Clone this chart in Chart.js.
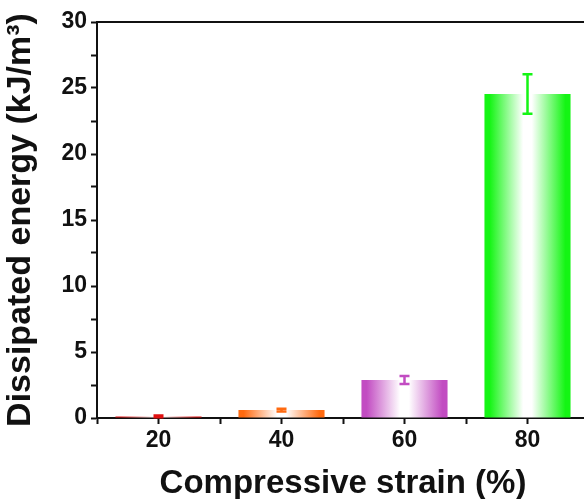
<!DOCTYPE html>
<html>
<head>
<meta charset="utf-8">
<script src="https://cdn.jsdelivr.net/npm/chart.js@4/dist/chart.umd.min.js"></script>
<style>
  html, body { margin: 0; padding: 0; background: #fff; overflow: hidden; }
  #wrap { width: 600px; height: 499px; }
</style>
</head>
<body>
<div id="wrap"><canvas id="myChart" width="600" height="499"></canvas></div>
<script>
// data
const strains = [20, 40, 60, 80];
const energy = [0.12, 0.6, 2.88, 24.55];
const energyErr = [0.06, 0.1, 0.3, 1.5];
const barColors = ['#e01010', '#ff6a10', '#c24cc2', '#14f514'];
const xTickLabels = [20, 40, 60, 80];

const FONT = "'Liberation Sans', Arial, sans-serif";

// horizontal gradient: colour at edges, white in the middle
const barFill = (ctx) => {
    const chart = ctx.chart;
    const { chartArea, scales } = chart;
    const i = ctx.dataIndex;
    if (!chartArea || !scales.x || i === undefined) return barColors[i] || '#000';
    const xs = scales.x;
    const cx = xs.getPixelForValue(strains[i]);
    const half = 0.35 * (xs.getPixelForValue(strains[1]) - xs.getPixelForValue(strains[0]));
    const g = chart.ctx.createLinearGradient(cx - half, 0, cx + half, 0);
    g.addColorStop(0, barColors[i]);
    g.addColorStop(0.06, barColors[i]);
    g.addColorStop(0.45, '#ffffff');
    g.addColorStop(0.55, '#ffffff');
    g.addColorStop(0.94, barColors[i]);
    g.addColorStop(1, barColors[i]);
    return g;
};

const errorBars = {
    id: 'errorBars',
    afterDatasetsDraw(chart) {
        const { ctx, scales } = chart;
        const xs = scales.x, ys = scales.y;
        ctx.save();
        energy.forEach((v, i) => {
            const x = xs.getPixelForValue(strains[i]);
            const yt = ys.getPixelForValue(v + energyErr[i]);
            const yb = ys.getPixelForValue(v - energyErr[i]);
            ctx.strokeStyle = barColors[i];
            ctx.lineWidth = 2.5;
            ctx.beginPath();
            ctx.moveTo(x, yt); ctx.lineTo(x, yb);
            ctx.moveTo(x - 5, yt); ctx.lineTo(x + 5, yt);
            ctx.moveTo(x - 5, yb); ctx.lineTo(x + 5, yb);
            ctx.stroke();
        });
        ctx.restore();
    }
};

// top / right frame line
const frameTop = {
    id: 'frameTop',
    afterDraw(chart) {
        const { ctx, chartArea } = chart;
        ctx.save();
        ctx.strokeStyle = '#111';
        ctx.lineWidth = 2;
        ctx.beginPath();
        ctx.moveTo(chartArea.left, chartArea.top);
        ctx.lineTo(chartArea.right, chartArea.top);
        ctx.lineTo(chartArea.right, chartArea.bottom);
        ctx.stroke();
        ctx.restore();
    }
};

new Chart(document.getElementById('myChart'), {
    type: 'bar',
    data: {
        datasets: [{
            data: strains.map((s, i) => ({ x: s, y: energy[i] })),
            backgroundColor: barFill,
            borderWidth: 0,
            barPercentage: 1.4,   // relative to the 10-unit tick spacing
            categoryPercentage: 1
        }]
    },
    options: {
        responsive: false,
        animation: false,
        layout: { padding: { top: 22, right: 11, left: 0, bottom: 0 } },
        plugins: { legend: { display: false }, tooltip: { enabled: false } },
        scales: {
            x: {
                type: 'linear',
                offset: false,
                min: 10, max: 90,
                afterFit: (s) => { s.height = 81; },
                grid: { drawOnChartArea: false, offset: false, tickLength: 6, tickColor: '#111', tickWidth: 2 },
                border: { color: '#111', width: 2 },
                ticks: {
                    stepSize: 10,
                    autoSkip: false,
                    maxRotation: 0,
                    padding: 3,
                    color: '#111',
                    font: { family: FONT, size: 23, weight: 'bold' },
                    callback: (v) => xTickLabels.includes(v) ? String(v) : ''
                },
                title: {
                    display: true,
                    text: 'Compressive strain (%)',
                    color: '#111',
                    font: { family: FONT, size: 33, weight: 'bold' },
                    padding: { top: 0, bottom: -5 }
                }
            },
            y: {
                min: 0, max: 30,
                afterFit: (s) => { s.width = 97; },
                grid: { drawOnChartArea: false, tickLength: 6, tickColor: '#111', tickWidth: 2 },
                border: { color: '#111', width: 2 },
                ticks: {
                    stepSize: 2.5,
                    autoSkip: false,
                    padding: 4,
                    color: '#111',
                    font: { family: FONT, size: 23, weight: 'bold' },
                    callback: (v) => v % 5 === 0 ? String(v) : ''
                },
                title: {
                    display: true,
                    text: 'Dissipated energy (kJ/m³)',
                    color: '#111',
                    font: { family: FONT, size: 34, weight: 'bold' },
                    padding: { top: 0, bottom: 2 }
                }
            }
        }
    },
    plugins: [errorBars, frameTop]
});
</script>
</body>
</html>
